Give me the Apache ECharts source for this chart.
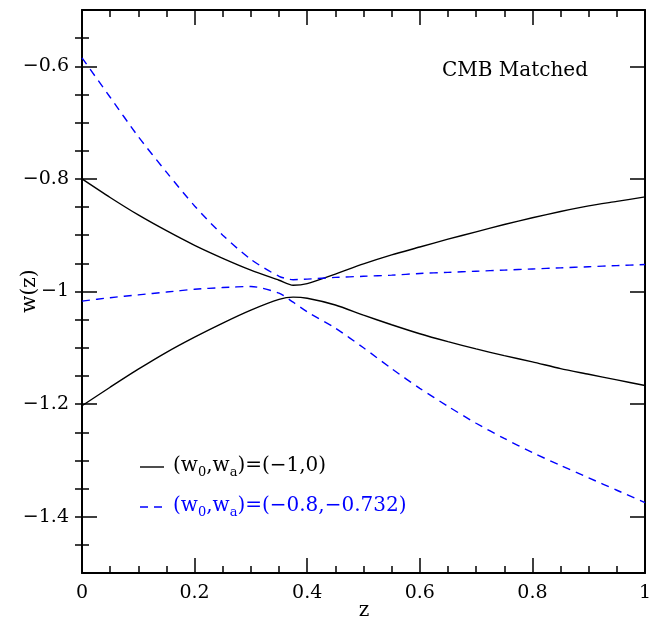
<!DOCTYPE html>
<html>
<head>
<meta charset="utf-8">
<script src="https://cdn.jsdelivr.net/npm/echarts@6/dist/echarts.min.js"></script>
<style>
  html, body { margin: 0; padding: 0; background: #fff; }
  #chart { width: 649px; height: 622px; }
</style>
</head>
<body>
<div id="chart"></div>
<script>
// ---- data ----
const zVals = [0, 0.05, 0.1, 0.15, 0.2, 0.25, 0.3, 0.35, 0.375, 0.4, 0.45, 0.5, 0.55, 0.6, 0.65, 0.7, 0.75, 0.8, 0.85, 0.9, 0.95, 1];
const blackUpper = [-0.800, -0.833, -0.864, -0.892, -0.918, -0.941, -0.962, -0.980, -0.989, -0.986, -0.969, -0.951, -0.935, -0.921, -0.907, -0.894, -0.881, -0.869, -0.858, -0.848, -0.840, -0.832];
const blackLower = [-1.203, -1.170, -1.138, -1.108, -1.081, -1.056, -1.033, -1.014, -1.010, -1.012, -1.024, -1.042, -1.059, -1.075, -1.089, -1.102, -1.114, -1.125, -1.137, -1.147, -1.157, -1.167];
const blueUpper = [-0.585, -0.655, -0.725, -0.788, -0.848, -0.900, -0.943, -0.973, -0.979, -0.978, -0.975, -0.973, -0.971, -0.968, -0.966, -0.964, -0.962, -0.960, -0.958, -0.956, -0.954, -0.952];
const blueLower = [-1.017, -1.011, -1.006, -1.001, -0.996, -0.993, -0.991, -1.003, -1.019, -1.036, -1.065, -1.100, -1.137, -1.172, -1.204, -1.234, -1.261, -1.286, -1.309, -1.331, -1.353, -1.375];

const xTicks = [0, 0.2, 0.4, 0.6, 0.8, 1];
const yTicks = [-1.4, -1.2, -1, -0.8, -0.6];
const yMinorTicks = [-1.45, -1.4, -1.35, -1.3, -1.25, -1.2, -1.15, -1.1, -1.05, -1, -0.95, -0.9, -0.85, -0.8, -0.75, -0.7, -0.65, -0.6, -0.55];

const seriesNames = ['(w0,wa)=(-1,0)', '(w0,wa)=(-0.8,-0.732)'];
const panelLabel = 'CMB Matched';
const xName = 'z';
const yName = 'w(z)';

// ---- chart ----
const FONT = 'DejaVu Serif';
const pair = arr => zVals.map((z, i) => [z, arr[i]]);
const fmtY = v => { const a = +Math.abs(v).toFixed(2); return (v < 0 ? '\u2212' : '') + a; };
const fmtX = v => String(+(+v).toFixed(2));

const axLine = { show: true, lineStyle: { color: '#000', width: 2 } };
const majTick = { show: true, inside: true, length: 15, lineStyle: { color: '#000', width: 1.5 } };
const minTick = { show: true, inside: true, length: 7, lineStyle: { color: '#000', width: 1.5 } };

function xAx(pos, labels) {
  return {
    type: 'value', min: 0, max: 1, interval: 0.2, position: pos,
    axisLine: axLine,
    axisTick: Object.assign({}, majTick, { customValues: xTicks }),
    minorTick: Object.assign({ splitNumber: 4 }, minTick),
    splitLine: { show: false }, minorSplitLine: { show: false },
    axisLabel: labels ? { show: true, customValues: xTicks, formatter: fmtX, fontFamily: FONT, fontSize: 19, color: '#000', margin: 11 } : { show: false }
  };
}
function yAx(pos, labels, minor) {
  return {
    type: 'value', min: -1.5, max: -0.5, position: pos,
    axisLine: minor ? { show: false } : axLine,
    axisTick: Object.assign({}, minor ? minTick : majTick, { customValues: minor ? yMinorTicks : yTicks }),
    splitLine: { show: false },
    axisLabel: labels ? { show: true, customValues: yTicks, formatter: fmtY, fontFamily: FONT, fontSize: 19, color: '#000', margin: 13 } : { show: false }
  };
}

const chart = echarts.init(document.getElementById('chart'), null, { renderer: 'canvas' });
const lineStyleBlack = { color: '#000', width: 1.4, type: 'solid' };
const lineStyleBlue = { color: '#0000ff', width: 1.4, type: [8, 6] };

const option = {
  backgroundColor: '#fff',
  animation: false,
  grid: { left: 82, top: 10, right: 4, bottom: 49, containLabel: false, outerBoundsMode: 'none' },
  title: {
    text: panelLabel, left: 437, top: 56,
    textStyle: { fontFamily: FONT, fontSize: 20, fontWeight: 'normal', color: '#000' }
  },
  xAxis: [xAx('bottom', true), xAx('top', false)],
  yAxis: [yAx('left', false, true), yAx('right', false, true), yAx('left', true, false), yAx('right', false, false)],
  series: [
    { name: seriesNames[0], type: 'line', xAxisIndex: 0, yAxisIndex: 2, data: pair(blackUpper), showSymbol: false, smooth: 0.25, lineStyle: lineStyleBlack, itemStyle: { color: '#000' } },
    { name: seriesNames[0], type: 'line', xAxisIndex: 0, yAxisIndex: 2, data: pair(blackLower), showSymbol: false, smooth: 0.25, lineStyle: lineStyleBlack, itemStyle: { color: '#000' } },
    { name: seriesNames[1], type: 'line', xAxisIndex: 0, yAxisIndex: 2, data: pair(blueUpper), showSymbol: false, smooth: 0.25, lineStyle: lineStyleBlue, itemStyle: { color: '#0000ff' } },
    { name: seriesNames[1], type: 'line', xAxisIndex: 0, yAxisIndex: 2, data: pair(blueLower), showSymbol: false, smooth: 0.25, lineStyle: lineStyleBlue, itemStyle: { color: '#0000ff' } }
  ],
  graphic: [
    { type: 'text', x: 364, y: 611, style: { text: xName, fontFamily: FONT, fontSize: 20, fill: '#000', align: 'center', verticalAlign: 'middle' } },
    { type: 'text', x: 30, y: 291, rotation: Math.PI / 2, style: { text: yName, fontFamily: FONT, fontSize: 20, fill: '#000', align: 'center', verticalAlign: 'middle' } },
    { type: 'line', shape: { x1: 140, y1: 467, x2: 164, y2: 467 }, style: { stroke: '#000', lineWidth: 1.4 } },
    { type: 'text', x: 173, y: 456, style: {
        text: '{n|(w}{s|0}{n|,w}{s|a}{n|)=(\u22121,0)}',
        fill: '#000',
        rich: {
          n: { fontFamily: FONT, fontSize: 20, lineHeight: 20, verticalAlign: 'top', fill: '#000' },
          s: { fontFamily: FONT, fontSize: 13, lineHeight: 13, verticalAlign: 'top', padding: [10, 0, 0, 0], fill: '#000' }
        }
    } },
    { type: 'line', shape: { x1: 140, y1: 507, x2: 164, y2: 507 }, style: { stroke: '#0000ff', lineWidth: 1.4, lineDash: [8, 6] } },
    { type: 'text', x: 173, y: 496, style: {
        text: '{n|(w}{s|0}{n|,w}{s|a}{n|)=(\u22120.8,\u22120.732)}',
        fill: '#0000ff',
        rich: {
          n: { fontFamily: FONT, fontSize: 20, lineHeight: 20, verticalAlign: 'top', fill: '#0000ff' },
          s: { fontFamily: FONT, fontSize: 13, lineHeight: 13, verticalAlign: 'top', padding: [10, 0, 0, 0], fill: '#0000ff' }
        }
    } }
  ]
};
chart.setOption(option);
</script>
</body>
</html>
